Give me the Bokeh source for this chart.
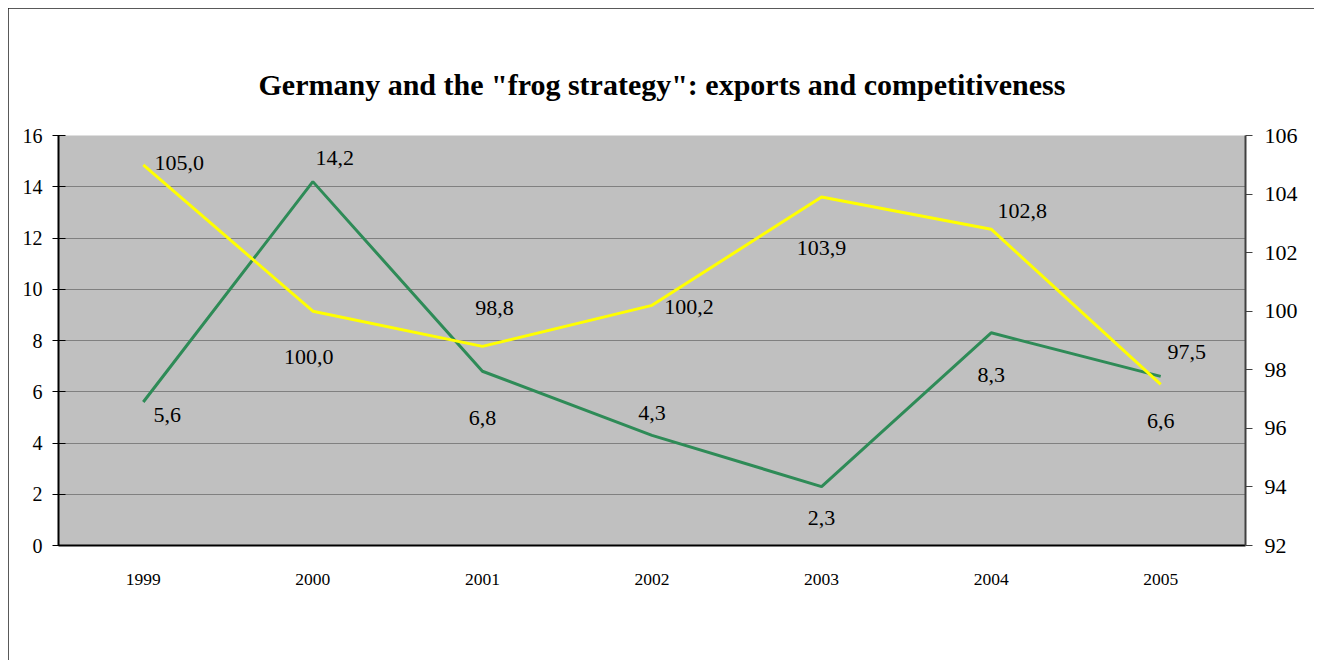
from bokeh.plotting import figure
from bokeh.models import (ColumnDataSource, FactorRange, Range1d, LinearAxis, FixedTicker,
                          Legend, LegendItem)
from bokeh.core.properties import value
from bokeh.embed import file_html
from bokeh.resources import INLINE

years = ["1999", "2000", "2001", "2002", "2003", "2004", "2005"]
exports = [5.6, 14.2, 6.8, 4.3, 2.3, 8.3, 6.6]
rulc = [105.0, 100.0, 98.8, 100.2, 103.9, 102.8, 97.5]
left_ticks = [0, 2, 4, 6, 8, 10, 12, 14, 16]
right_ticks = [92, 94, 96, 98, 100, 102, 104, 106]

title_text = 'Germany and the "frog strategy": exports and competitiveness'
export_name = "Export volumes of goods and services, in % change (left scale)"
rulc_name = "Relative unit labor costs index (right scale, 2000=100)"

# label offsets (screen pixels) - style only
exp_dx = [24, 22, 0, 0, 0, 0, 0]
exp_dy = [13, -24, 47, -22, 31, 42, 45]
rulc_dx = [36, -4, 12, 37, 0, 31, 26]
rulc_dy = [-2, 46, -38, 2, 51, -18, -32]

def fmt(v):
    return f"{v:.1f}".replace(".", ",")

FONT = "Liberation Serif"
GREEN = "#2e8b57"
YELLOW = "#ffff00"

src = ColumnDataSource(dict(
    year=years, exports=exports, rulc=rulc,
    exp_lab=[fmt(v) for v in exports], rulc_lab=[fmt(v) for v in rulc],
    exp_dx=exp_dx, exp_dy=exp_dy, rulc_dx=rulc_dx, rulc_dy=rulc_dy,
))

OX, OY = 8, 8
p = figure(
    frame_width=1187, frame_height=410,
    x_range=FactorRange(factors=years, range_padding=0),
    y_range=Range1d(left_ticks[0], left_ticks[-1]),
    output_backend="svg", toolbar_location=None,
    min_border_left=50, min_border_right=69, min_border_top=127, min_border_bottom=115,
)
p.styles = {"margin-left": f"{OX}px", "margin-top": f"{OY}px",
            "outline": "2px solid #222222", "outline-offset": "-2px"}
p.extra_y_ranges = {"right": Range1d(right_ticks[0], right_ticks[-1])}

p.title.text = title_text
p.title.align = "left"
p.title.offset = 200
p.title.vertical_align = "top"
p.title.standoff = 65
p.title.text_font = FONT
p.title.text_font_size = "30px"
p.title.text_font_style = "bold"
p.title.text_color = "#000000"

p.background_fill_color = "#c0c0c0"
p.border_fill_color = "#ffffff"
p.outline_line_color = None

p.xgrid.grid_line_color = None
p.ygrid.grid_line_color = "#808080"
p.ygrid.grid_line_width = 1
p.ygrid.ticker = FixedTicker(ticks=left_ticks)

# left axis
ya = p.yaxis[0]
ya.ticker = FixedTicker(ticks=left_ticks)
ya.axis_line_color = "#000000"
ya.axis_line_width = 2
ya.major_tick_line_color = "#000000"
ya.major_tick_out = 6
ya.major_tick_in = 7
ya.minor_tick_line_color = None
ya.major_label_standoff = 10
ya.major_label_text_font = FONT
ya.major_label_text_font_size = "20px"
ya.major_label_text_color = "#000000"

# right axis
ra = LinearAxis(y_range_name="right", ticker=FixedTicker(ticks=right_ticks))
ra.axis_line_color = "#404040"
ra.axis_line_width = 2
ra.major_tick_line_color = "#404040"
ra.major_tick_out = 7
ra.major_tick_in = 0
ra.minor_tick_line_color = None
ra.major_label_standoff = 12
ra.major_label_text_font = FONT
ra.major_label_text_font_size = "22px"
ra.major_label_text_color = "#000000"
p.add_layout(ra, "right")

# x axis
xa = p.xaxis[0]
xa.axis_line_color = "#000000"
xa.axis_line_width = 2
xa.major_tick_line_color = None
xa.major_tick_out = 0
xa.major_tick_in = 0
xa.major_label_standoff = 28
xa.major_label_text_font = FONT
xa.major_label_text_font_size = "17.5px"
xa.major_label_text_color = "#000000"

r1 = p.line("year", "exports", source=src, line_color=GREEN, line_width=3)
r2 = p.line("year", "rulc", source=src, line_color=YELLOW, line_width=3, y_range_name="right")

p.text("year", "exports", text="exp_lab", source=src, x_offset="exp_dx", y_offset="exp_dy",
       text_align="center", text_baseline="middle", text_font=value(FONT),
       text_font_size="22px", text_color="#000000")
p.text("year", "rulc", text="rulc_lab", source=src, x_offset="rulc_dx", y_offset="rulc_dy",
       text_align="center", text_baseline="middle", text_font=value(FONT),
       text_font_size="22px", text_color="#000000", y_range_name="right")

legend = Legend(
    items=[LegendItem(label=export_name, renderers=[r1]), LegendItem(label=rulc_name, renderers=[r2])],
    orientation="horizontal", location=(-11, -4), margin=0,
    padding=10, spacing=32, label_standoff=5, glyph_width=38,
    label_text_font=FONT, label_text_font_size="23.5px", label_text_color="#000000",
    border_line_color="#808080", border_line_width=2,
    background_fill_color="#ffffff", background_fill_alpha=1,
)
p.add_layout(legend, "below")

open("out.html", "w").write(file_html(p, INLINE))
